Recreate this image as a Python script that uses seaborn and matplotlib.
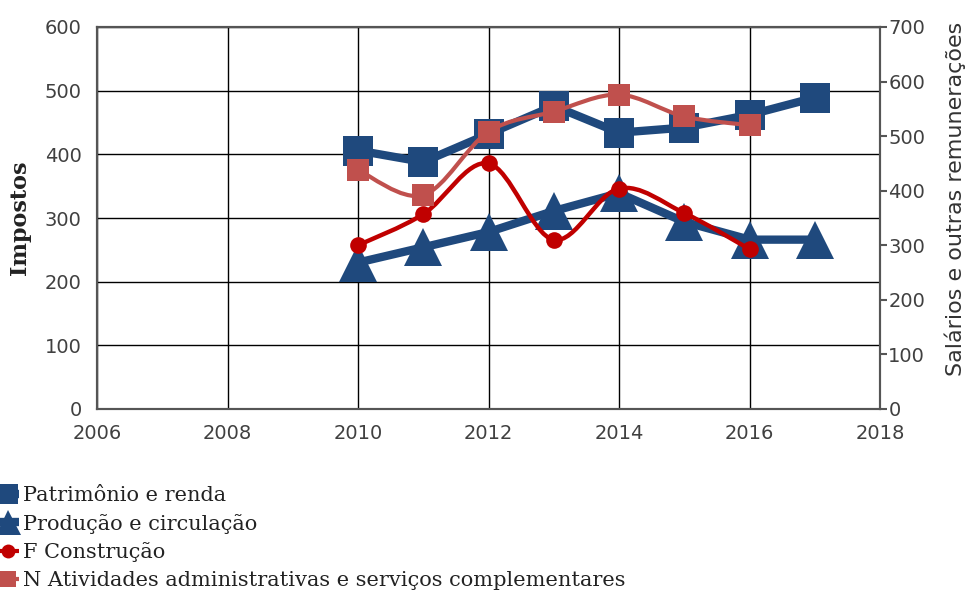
import matplotlib
matplotlib.use("Agg")
import matplotlib.pyplot as plt
from matplotlib.path import Path
from matplotlib.patches import PathPatch
from matplotlib.lines import Line2D
import numpy as np
import seaborn as sns
import pandas as pd

years = [2010, 2011, 2012, 2013, 2014, 2015, 2016, 2017]
patrimonio = [406, 388, 432, 476, 434, 442, 462, 489]
producao = [230, 254, 278, 311, 339, 294, 266, 266]
years_r = [2010, 2011, 2012, 2013, 2014, 2015, 2016]
construcao = [300, 357, 450, 310, 404, 359, 293]
atividades = [438, 392, 508, 545, 576, 536, 520]

labels = ["Patrimônio e renda", "Produção e circulação", "F Construção",
          "N Atividades administrativas e serviços complementares"]

sns.set_theme(style="white")
plt.rcParams["font.family"] = ["DejaVu Sans"]

DARK = "#1F497D"
RED = "#C00000"
LRED = "#C0504D"


def smooth_patch(xs, ys, color, lw):
    """Excel-style smoothed line (Bezier through the data points)."""
    P = np.column_stack([xs, ys]).astype(float)
    n = len(P)
    verts = [tuple(P[0])]
    codes = [Path.MOVETO]
    t = 1.0 / 6.0
    for i in range(n - 1):
        p0 = P[i - 1] if i > 0 else P[i]
        p1 = P[i]
        p2 = P[i + 1]
        p3 = P[i + 2] if i + 2 < n else P[i + 1]
        c1 = p1 + (p2 - p0) * t
        c2 = p2 - (p3 - p1) * t
        verts += [tuple(c1), tuple(c2), tuple(p2)]
        codes += [Path.CURVE4] * 3
    return PathPatch(Path(verts, codes), fill=False, edgecolor=color, lw=lw,
                     capstyle="round", joinstyle="round", zorder=2.5)


fig = plt.figure(figsize=(9.68, 5.91), dpi=100)
ax = fig.add_axes([97/968, 1-409/591, (880-97)/968, (409-27)/591])
ax2 = ax.twinx()

df_l = pd.DataFrame({"ano": years, "p": patrimonio, "q": producao})
df_r = pd.DataFrame({"ano": years_r, "c": construcao, "a": atividades})

sns.lineplot(data=df_l, x="ano", y="p", ax=ax, color=DARK, lw=6, marker="s",
             markersize=22, markeredgewidth=0, legend=False, zorder=3)
sns.lineplot(data=df_l, x="ano", y="q", ax=ax, color=DARK, lw=6, marker="^",
             markersize=27, markeredgewidth=0, legend=False, zorder=3)

ax2.add_patch(smooth_patch(df_r["ano"], df_r["c"], RED, 3.2))
ax2.add_patch(smooth_patch(df_r["ano"], df_r["a"], LRED, 3.0))
sns.lineplot(data=df_r, x="ano", y="c", ax=ax2, color=RED, lw=0, marker="o",
             markersize=12, markeredgewidth=0, legend=False, zorder=3)
sns.lineplot(data=df_r, x="ano", y="a", ax=ax2, color=LRED, lw=0, marker="s",
             markersize=16, markeredgewidth=0, legend=False, zorder=3)

ax.set_xlim(2006, 2018)
ax.set_ylim(0, 600)
ax2.set_ylim(0, 700)
ax.set_xticks(range(2006, 2019, 2))
ax.set_yticks(range(0, 601, 100))
ax2.set_yticks(range(0, 701, 100))
ax.grid(True, color="black", lw=1.0)
ax.set_axisbelow(True)

for a in (ax, ax2):
    for s in a.spines.values():
        s.set_color("#555555")
        s.set_linewidth(1.5)
ax.tick_params(axis="both", labelsize=14, colors="#404040", length=0)
ax.tick_params(axis="x", pad=11)
ax.tick_params(axis="y", pad=11)
ax2.tick_params(axis="y", labelsize=14, labelcolor="#404040", color="#555555",
                direction="out", length=5, width=1.5, pad=1)

ax.set_xlabel("")
ax.set_ylabel("Impostos", family="DejaVu Serif", fontweight="bold", fontsize=16,
              color="#222222", labelpad=10)
ax2.set_ylabel("Salários e outras remunerações", fontsize=16, color="#333333")
ax2.yaxis.set_label_coords((944 - 97) / 783, (409 - 199) / 382)

handles = [
    Line2D([], [], color=DARK, lw=6, marker="s", markersize=15, markeredgewidth=0,
           solid_capstyle="butt"),
    Line2D([], [], color=DARK, lw=6, marker="^", markersize=18, markeredgewidth=0,
           solid_capstyle="butt"),
    Line2D([], [], color=RED, lw=3, marker="o", markersize=10, markeredgewidth=0,
           solid_capstyle="butt"),
    Line2D([], [], color=LRED, lw=3, marker="s", markersize=11, markeredgewidth=0,
           solid_capstyle="butt"),
]
leg = fig.legend(handles, labels, loc="upper left", bbox_to_anchor=(-0.011, 0.192),
                 frameon=False, handlelength=1.0, handletextpad=0.2, labelspacing=0.42,
                 numpoints=1, borderaxespad=0, prop={"family": "DejaVu Serif", "size": 15})
for t in leg.get_texts():
    t.set_color("#222222")

fig.savefig("out.png", dpi=100)
